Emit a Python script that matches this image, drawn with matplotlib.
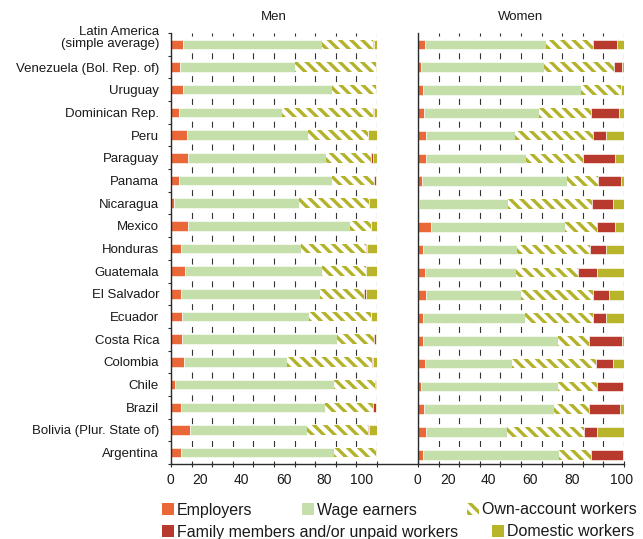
import matplotlib
matplotlib.use("Agg")
import matplotlib.pyplot as plt
import matplotlib.patches as mpatches
import matplotlib.transforms as mtransforms
from matplotlib.lines import Line2D
import numpy as np

plt.rcParams["font.family"] = ["Liberation Sans", "DejaVu Sans"]
plt.rcParams["hatch.linewidth"] = 2.4
plt.rcParams["lines.scale_dashes"] = False

# categories, top to bottom
countries = [
    "Latin America\n(simple average)", "Venezuela (Bol. Rep. of)", "Uruguay",
    "Dominican Rep.", "Peru", "Paraguay", "Panama", "Nicaragua", "Mexico",
    "Honduras", "Guatemala", "El Salvador", "Ecuador", "Costa Rica",
    "Colombia", "Chile", "Brazil", "Bolivia (Plur. State of)", "Argentina",
]
series_names = ["Employers", "Wage earners", "Own-account workers",
                "Family members and/or unpaid workers", "Domestic workers"]

men_employers = [6.0, 4.4, 5.7, 3.9, 7.8, 8.3, 3.9, 1.3, 8.3, 4.9, 6.8, 4.9, 5.3, 5.3, 6.3, 1.9, 4.9, 9.2, 4.9]
men_wage = [67.5, 55.6, 72.3, 50.1, 58.5, 66.9, 74.3, 60.7, 78.6, 58.0, 66.5, 67.6, 61.7, 75.1, 49.8, 77.4, 70.0, 56.7, 74.2]
men_own = [24.6, 39.7, 21.7, 44.1, 29.5, 21.7, 20.3, 34.0, 10.2, 31.8, 21.5, 21.2, 30.1, 18.1, 41.6, 19.7, 23.3, 29.9, 20.3]
men_family = [0.6, 0.0, 0.0, 0.6, 0.0, 1.1, 0.8, 0.0, 0.0, 0.6, 0.0, 1.0, 0.0, 0.8, 0.3, 0.6, 1.1, 0.3, 0.0]
men_domestic = [1.3, 0.3, 0.3, 1.3, 4.2, 2.0, 0.7, 4.0, 2.9, 4.7, 5.2, 5.3, 2.9, 0.7, 2.0, 0.4, 0.7, 3.9, 0.6]

women_employers = [3.4, 1.5, 2.4, 2.9, 3.7, 3.7, 1.9, 0.5, 6.3, 2.4, 3.4, 3.7, 2.4, 2.4, 3.4, 1.5, 2.9, 3.9, 2.4]
women_wage = [58.7, 59.5, 76.7, 55.7, 43.5, 48.7, 70.6, 43.0, 65.1, 45.7, 44.0, 46.3, 49.5, 65.4, 42.4, 66.3, 63.1, 39.3, 66.2]
women_own = [23.0, 34.1, 19.6, 25.5, 37.9, 27.7, 14.9, 41.0, 15.5, 35.4, 30.3, 34.8, 32.9, 15.0, 40.4, 18.9, 16.8, 37.4, 15.4]
women_family = [11.5, 3.9, 0.0, 13.6, 6.3, 15.5, 11.1, 10.2, 8.7, 7.9, 9.0, 7.8, 6.5, 16.2, 8.6, 13.0, 15.3, 6.3, 15.4]
women_domestic = [3.4, 1.0, 1.3, 2.3, 8.6, 4.4, 1.5, 5.3, 4.4, 8.6, 13.3, 7.4, 8.7, 1.0, 5.2, 0.3, 1.9, 13.1, 0.6]

x_ticks = list(range(0, 101, 10))
x_ticklabels = ["0", "", "20", "", "40", "", "60", "", "80", "", "100"]

EMP = "#EA6737"
WAGE = "#C5DFAA"
OWN = "#B3B22B"
FAM = "#B83A2E"
DOM = "#B8B52B"
AXIS = "#2b2b2b"
TEXT = "#1a1a1a"

W, H, DPI = 643, 539, 100
AX_BOTTOM, AX_TOP = 464, 33
Y_LO, Y_HI = 18.4, -0.5


def styles():
    solid = dict(edgecolor="white", linewidth=0.4)
    return [
        dict(color=EMP, **solid),
        dict(color=WAGE, **solid),
        dict(color="white", edgecolor=OWN, hatch="\\\\\\", linewidth=0),
        dict(color=FAM, **solid),
        dict(color=DOM, **solid),
    ]


def draw_panel(ax, segments, title, label_shift):
    y = np.arange(len(countries))
    left = np.zeros(len(countries))
    for vals, st in zip(segments, styles()):
        vals = np.array(vals)
        ax.barh(y, vals, left=left, height=0.42, zorder=2, **st)
        left += vals

    ax.set_xlim(0, 100)
    ax.set_ylim(Y_LO, Y_HI)
    for s in ["top", "right", "bottom"]:
        ax.spines[s].set_visible(False)
    ax.spines["left"].set_color(AXIS)
    ax.spines["left"].set_linewidth(1.0)

    # dashed grid, dashes sitting in the gaps between bars
    ax_h = AX_BOTTOM - AX_TOP
    period = ax_h / (Y_LO - Y_HI)
    dash = 6.0
    d0 = (Y_LO - (len(countries) - 1.5)) * period - dash / 2
    off = (period - d0) % period
    k = 72.0 / DPI
    ax.set_axisbelow(True)
    ax.grid(axis="x", color="#333333", linewidth=0.8,
            linestyle=(off * k, (dash * k, (period - dash) * k)), zorder=0)
    ax.grid(axis="y", visible=False)

    ax.set_xticks(x_ticks)
    ax.set_xticklabels(x_ticklabels)
    ax.tick_params(axis="x", direction="inout", length=5, width=0.8, color=AXIS,
                   labelsize=10, labelcolor=TEXT, pad=4)
    for lab, dx in zip(ax.get_xticklabels(), label_shift):
        lab.set_transform(lab.get_transform() +
                          mtransforms.ScaledTranslation(dx / DPI, 0, ax.figure.dpi_scale_trans))

    ax.set_title(title, fontsize=9.5, color=TEXT, pad=9.4)


fig = plt.figure(figsize=(W / DPI, H / DPI), dpi=DPI)
rect_y = 1 - AX_BOTTOM / H
rect_h = (AX_BOTTOM - AX_TOP) / H
ax_m = fig.add_axes([171 / W, rect_y, 206 / W, rect_h])
ax_w = fig.add_axes([418 / W, rect_y, 206 / W, rect_h])

draw_panel(ax_m, [men_employers, men_wage, men_own, men_family, men_domestic], "Men",
           [-1, 0, -12, 0, -12, 0, -11, 0, -12, 0, -15])
draw_panel(ax_w, [women_employers, women_wage, women_own, women_family, women_domestic], "Women",
           [-1, 0, -11, 0, -12, 0, -12, 0, -11, 0, -2])

# y axis labels on the Men panel only
ax_m.set_yticks(np.arange(len(countries)))
ax_m.set_yticklabels(countries, fontsize=9.5, color=TEXT, linespacing=1.0)
ax_m.set_yticks(np.arange(-0.5, len(countries), 1), minor=True)
ax_m.tick_params(axis="y", which="major", length=0, pad=8.6)
ax_m.tick_params(axis="y", which="minor", direction="out", length=2.5, width=0.8, color=AXIS)
first = ax_m.get_yticklabels()[0]
first.set_transform(first.get_transform() +
                    mtransforms.ScaledTranslation(0, 7.5 / DPI, fig.dpi_scale_trans))
ax_w.set_yticks([])

# continuous bottom axis line across both panels
fig.add_artist(Line2D([171 / W, 624 / W], [rect_y, rect_y], transform=fig.transFigure,
                      color=AXIS, linewidth=1.0))

st = styles()
handles = [mpatches.Patch(facecolor=s["color"], edgecolor=s["edgecolor"],
                          hatch=s.get("hatch"), linewidth=0) for s in st]
leg_kw = dict(frameon=False, fontsize=11.5, handlelength=0.75, handleheight=0.75,
              handletextpad=0.2, borderpad=0, borderaxespad=0, labelcolor=TEXT)
leg1 = fig.legend(handles[:3], series_names[:3], loc="center left", ncol=3,
                  bbox_to_anchor=(162 / W, 1 - 510 / H), columnspacing=3.1, **leg_kw)
leg2 = fig.legend(handles[3:], series_names[3:], loc="center left", ncol=2,
                  bbox_to_anchor=(162 / W, 1 - 532 / H), columnspacing=2.1, **leg_kw)

fig.savefig("out.png", dpi=DPI, facecolor="white")
